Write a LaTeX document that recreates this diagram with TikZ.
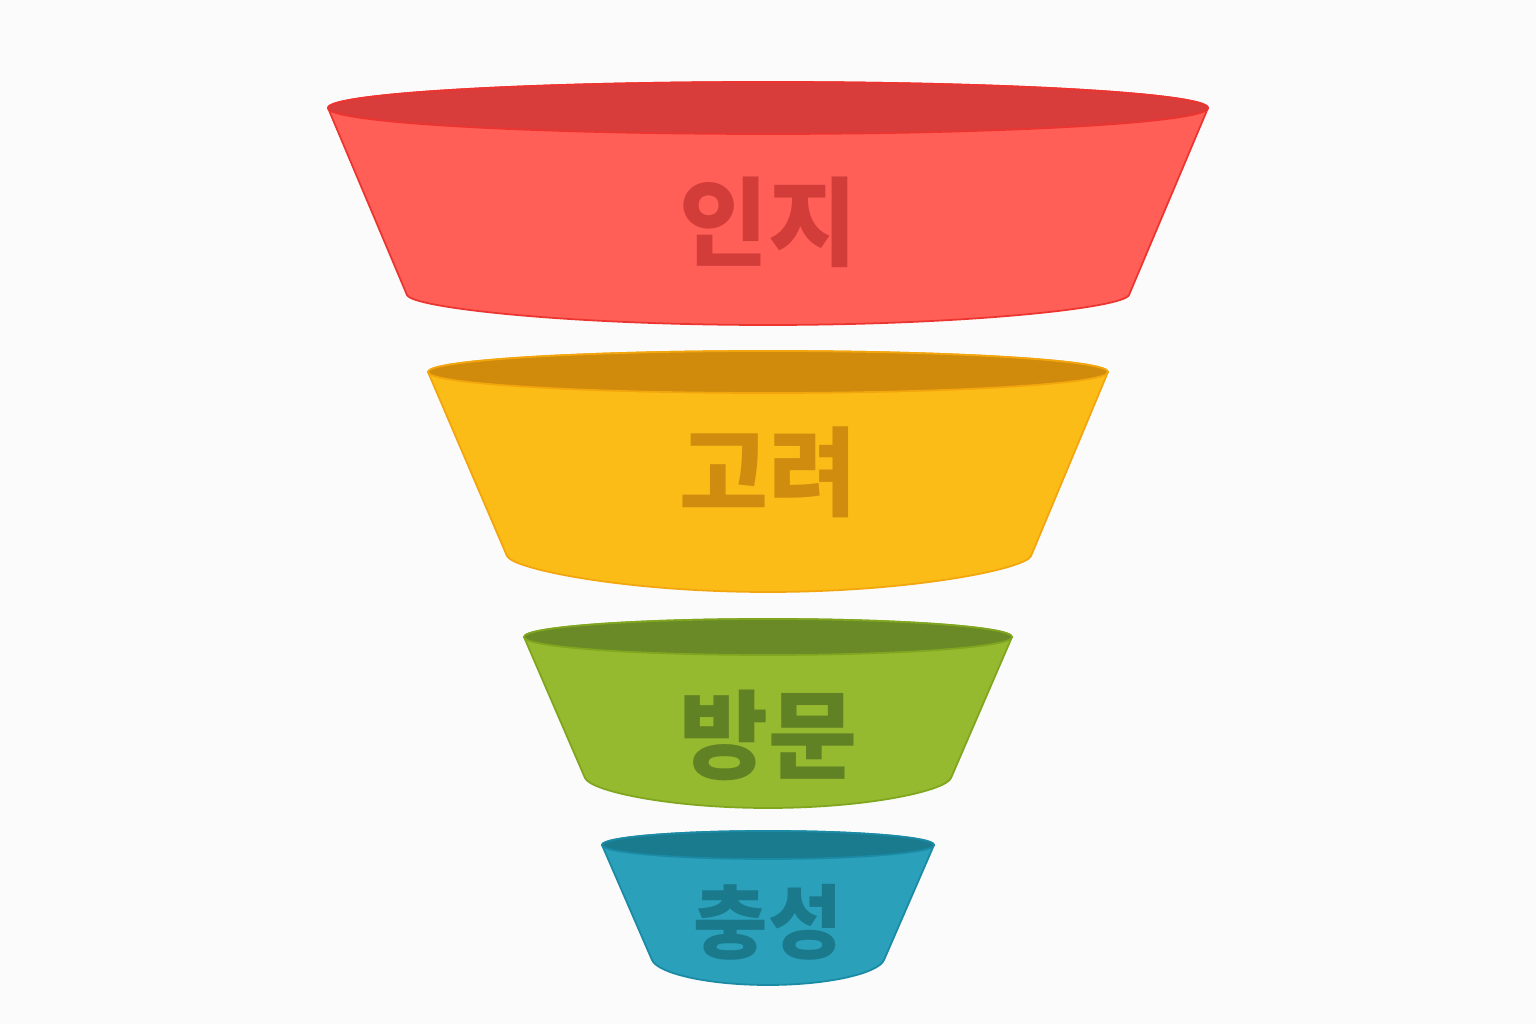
\documentclass[tikz,border=0pt]{standalone}
\usepackage{fontspec}
\newfontfamily\kr{Noto Sans CJK KR}
\definecolor{redbody}{HTML}{FF5F57}
\definecolor{redrim}{HTML}{D83C3B}
\definecolor{redtext}{HTML}{D23C39}
\definecolor{rededge}{HTML}{EC3530}
\definecolor{yelbody}{HTML}{FBBC18}
\definecolor{yelrim}{HTML}{D08B0D}
\definecolor{yeltext}{HTML}{CF8C0E}
\definecolor{yeledge}{HTML}{F2A50C}
\definecolor{grnbody}{HTML}{95B92F}
\definecolor{grnrim}{HTML}{6A8A27}
\definecolor{grntext}{HTML}{618224}
\definecolor{grnedge}{HTML}{7FA61E}
\definecolor{blubody}{HTML}{2AA0BA}
\definecolor{blurim}{HTML}{1A7B8F}
\definecolor{blutext}{HTML}{1B798C}
\definecolor{bluedge}{HTML}{1B8AA5}
\definecolor{bgcol}{HTML}{FBFBFB}
\tikzset{
  body/.style={fill=#1body, draw=#1edge, line width=0.5pt},
  rim/.style={fill=#1rim, draw=#1edge, line width=0.5pt},
  stage/.style={text=#1text, font=\kr\bfseries\fontsize{27.5}{27.5}\selectfont, inner sep=0pt}
}
\begin{document}
\begin{tikzpicture}[x=0.01cm,y=0.01cm]
\fill[bgcol] (0,0) rectangle (1536,1024);
\useasboundingbox (0,0) rectangle (1536,1024);

% awareness
\path[body=red] (328,916) -- (407,729) .. controls (412.5,716) and (570,699) .. (768,699)
  .. controls (966,699) and (1123.5,716) .. (1129,729) -- (1208,916)
  arc[start angle=0, end angle=180, x radius=440, y radius=26] -- cycle;
\path[rim=red] (768,916) ellipse[x radius=440, y radius=26];
\node[stage=red] (aware) at (768,802) {인지};

% consideration
\path[body=yel] (428,652) -- (507,468) .. controls (512.6,455) and (625,432) .. (768,432)
  .. controls (911,432) and (1025.4,455) .. (1031,468) -- (1108,652)
  arc[start angle=0, end angle=180, x radius=340, y radius=21] -- cycle;
\path[rim=yel] (768,652) ellipse[x radius=340, y radius=21];
\node[stage=yel] (consider) at (768,552) {고려};

% visit
\path[body=grn] (524,387) -- (585,246) .. controls (590.6,233) and (669,216) .. (768,216)
  .. controls (867,216) and (945.4,233) .. (951,246) -- (1012,387)
  arc[start angle=0, end angle=180, x radius=244, y radius=18] -- cycle;
\path[rim=grn] (768,387) ellipse[x radius=244, y radius=18];
\node[stage=grn] (visit) at (768,289) {방문};

% loyalty
\path[body=blu] (602,179) -- (652,64) .. controls (657.6,51) and (706,39) .. (768,39)
  .. controls (830,39) and (878.4,51) .. (884,64) -- (934,179)
  arc[start angle=0, end angle=180, x radius=166, y radius=14] -- cycle;
\path[rim=blu] (768,179) ellipse[x radius=166, y radius=14];
\node[stage=blu, font=\kr\bfseries\fontsize{23}{23}\selectfont] (loyal) at (768,102) {충성};
\end{tikzpicture}
\end{document}
